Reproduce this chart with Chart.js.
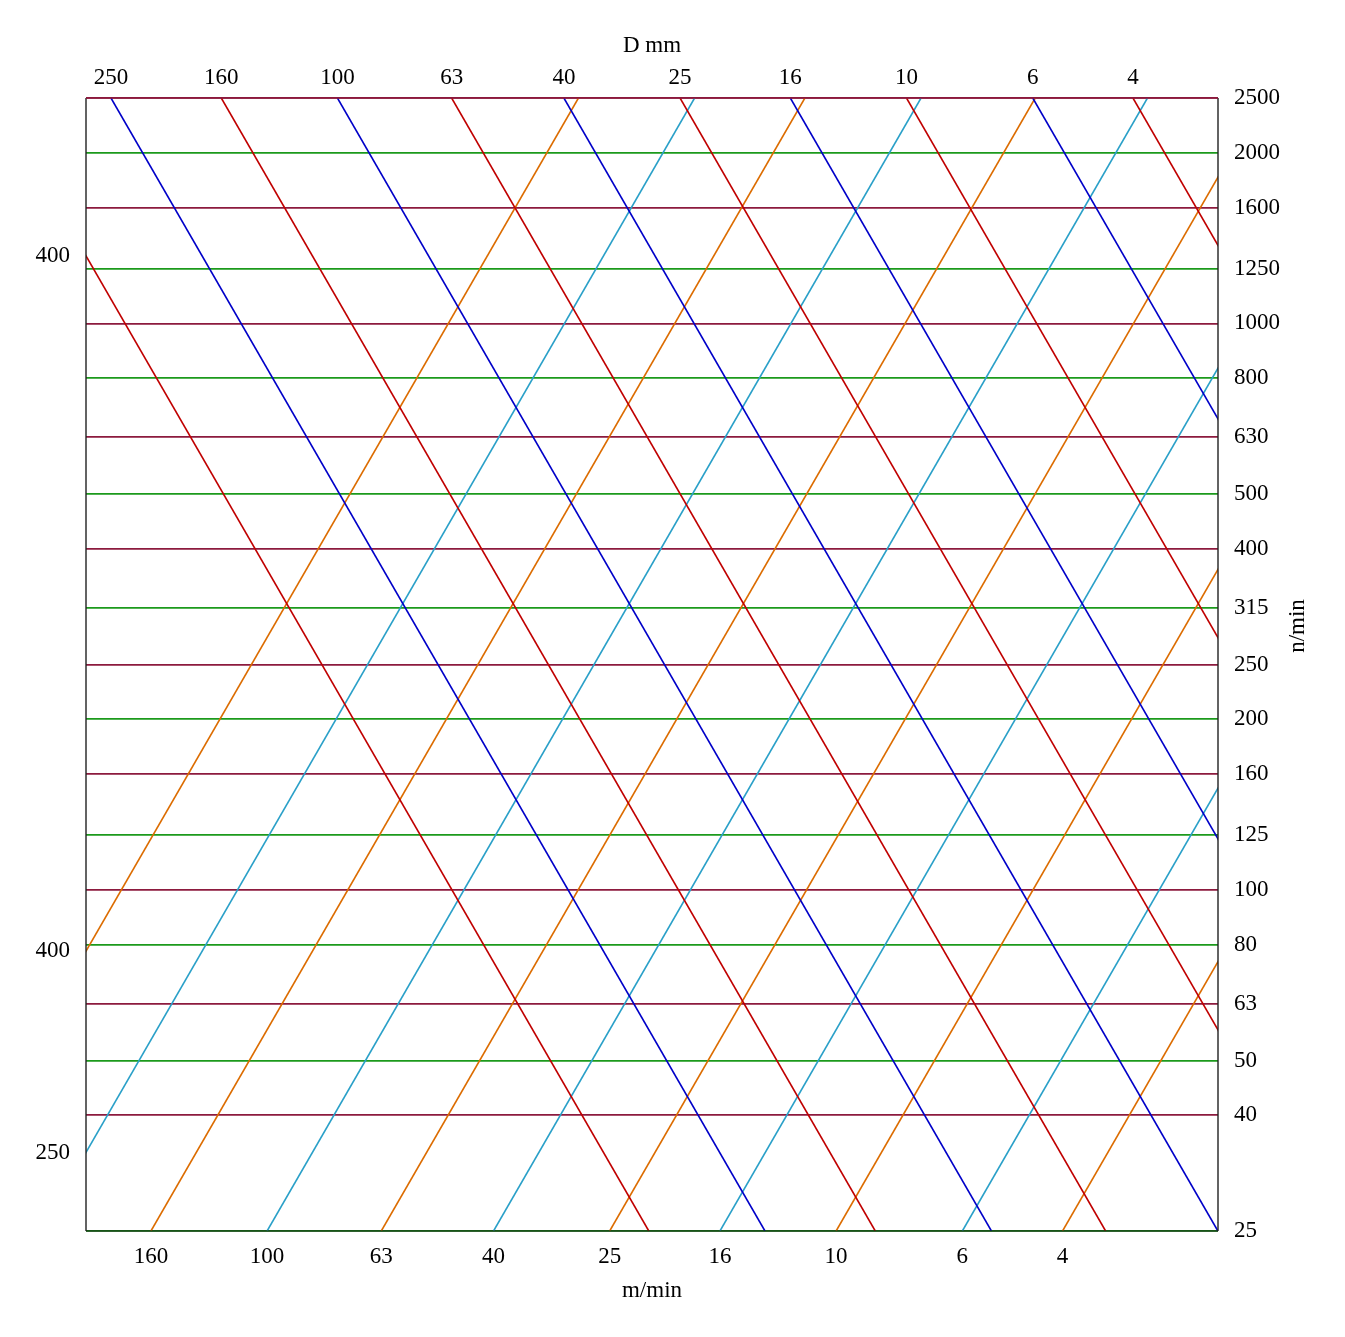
<!DOCTYPE html>
<html><head><meta charset="utf-8">
<script src="https://cdn.jsdelivr.net/npm/chart.js@4"></script>
<style>html,body{margin:0;padding:0;background:#fff}#wrap{width:1345px;height:1337px;position:relative}</style>
</head><body><div id="wrap"><canvas id="c"></canvas></div>
<script>
// ---- data ----
const nTicks = [25,40,50,63,80,100,125,160,200,250,315,400,500,630,800,1000,1250,1600,2000,2500];
const diameters = [400,250,160,100,63,40,25,16,10,6,4];   // D mm (descending lines)
const speeds = [400,250,160,100,63,40,25,16,10,6,4];      // m/min (ascending lines)
const N_MIN = 25, N_MAX = 2500;
const D_RANGE = [2.8355, 276.6];
const V_RANGE = [2.1325, 208.1];
const LINE_SPAN = 14.1; // x-ratio covered by a diagonal between n=25 and n=2500

const COLORS = {maroon:'#8c1a3e', green:'#1c9a1c', red:'#c00000', blue:'#0000c8', orange:'#dc6c00', cyan:'#2aa0c8'};
const FONT = "'Liberation Serif', 'Times New Roman', serif";
const FS = 23;

const datasets = [];
diameters.forEach((d,i)=>{
  datasets.push({label:String(d), xAxisID:'xD', yAxisID:'y',
    data:[{x:d/LINE_SPAN, y:N_MIN},{x:d, y:N_MAX}],
    borderColor: i%2===0 ? COLORS.red : COLORS.blue, borderWidth:1.6,
    pointRadius:0, fill:false, tension:0});
});
speeds.forEach((v,i)=>{
  datasets.push({label:String(v), xAxisID:'xV', yAxisID:'y',
    data:[{x:v/LINE_SPAN, y:N_MAX},{x:v, y:N_MIN}],
    borderColor: i%2===0 ? COLORS.orange : COLORS.cyan, borderWidth:1.6,
    pointRadius:0, fill:false, tension:0});
});

Chart.defaults.font.family = FONT;
Chart.defaults.font.size = FS;
Chart.defaults.color = '#000';

const extras = {
  id:'extras',
  afterDatasetsDraw(chart){
    const {ctx, chartArea:a} = chart;
    ctx.save();
    // left-edge labels for lines entering from the left side
    ctx.font = FS + 'px ' + FONT;
    ctx.fillStyle = '#000';
    ctx.textAlign = 'right';
    ctx.textBaseline = 'middle';
    chart.data.datasets.forEach((ds,i)=>{
      const pts = chart.getDatasetMeta(i).data;
      const p = pts[0].x < pts[1].x ? pts[0] : pts[1];
      const q = p === pts[0] ? pts[1] : pts[0];
      if (p.x < a.left){
        const y = p.y + (a.left - p.x)*(q.y - p.y)/(q.x - p.x);
        if (y >= a.top && y <= a.bottom) ctx.fillText(ds.label, a.left - 16, y);
      }
    });
    // frame
    ctx.lineWidth = 1.4;
    ctx.strokeStyle = '#222';
    ctx.beginPath();
    ctx.moveTo(a.left, a.top); ctx.lineTo(a.left, a.bottom);
    ctx.moveTo(a.right, a.top); ctx.lineTo(a.right, a.bottom);
    ctx.stroke();
    ctx.strokeStyle = 'rgba(20,40,20,0.8)';
    ctx.beginPath(); ctx.moveTo(a.left, a.bottom); ctx.lineTo(a.right, a.bottom); ctx.stroke();
    ctx.strokeStyle = COLORS.maroon;
    ctx.beginPath(); ctx.moveTo(a.left, a.top); ctx.lineTo(a.right, a.top); ctx.stroke();
    // right axis title
    ctx.translate(1298, 626);
    ctx.rotate(-Math.PI/2);
    ctx.textAlign = 'center';
    ctx.fillText('n/min', 0, 0);
    ctx.restore();
  }
};

const xCommon = (vals, range) => ({
  type:'logarithmic', reverse:true, min:range[0], max:range[1],
  grid:{display:false}, border:{display:false},
  afterBuildTicks(s){ s.ticks = vals.filter(v=>v>=s.min && v<=s.max).map(v=>({value:v})); },
  ticks:{autoSkip:false, maxRotation:0, minRotation:0, callback:v=>String(v)}
});

const xD = xCommon(diameters, D_RANGE);
xD.position = 'top';
xD.ticks.padding = -2;
xD.title = {display:true, text:'D mm', padding:{top:32, bottom:0}};
xD.afterFit = s => { s.height = 98; };

const xV = xCommon(speeds, V_RANGE);
xV.position = 'bottom';
xV.ticks.padding = 4;
xV.title = {display:true, text:'m/min', padding:{top:0, bottom:32}};
xV.afterFit = s => { s.height = 106; };

new Chart(document.getElementById('c'), {
  type:'line',
  data:{datasets},
  options:{
    responsive:true, maintainAspectRatio:false, animation:false,
    layout:{padding:{left:86, top:0, right:0, bottom:0}},
    plugins:{legend:{display:false}, tooltip:{enabled:false}},
    scales:{
      xD, xV,
      y:{type:'logarithmic', position:'right', min:N_MIN, max:N_MAX,
        afterBuildTicks(s){ s.ticks = nTicks.map(v=>({value:v})); },
        afterFit(s){ s.width = 127; },
        border:{display:false},
        grid:{drawTicks:false, lineWidth:1.8,
          color: ctx => (nTicks.indexOf(ctx.tick && ctx.tick.value) % 2 ? COLORS.maroon : COLORS.green)},
        ticks:{autoSkip:false, padding:16, callback:v=>String(v)}
      }
    }
  },
  plugins:[extras]
});
</script></body></html>
